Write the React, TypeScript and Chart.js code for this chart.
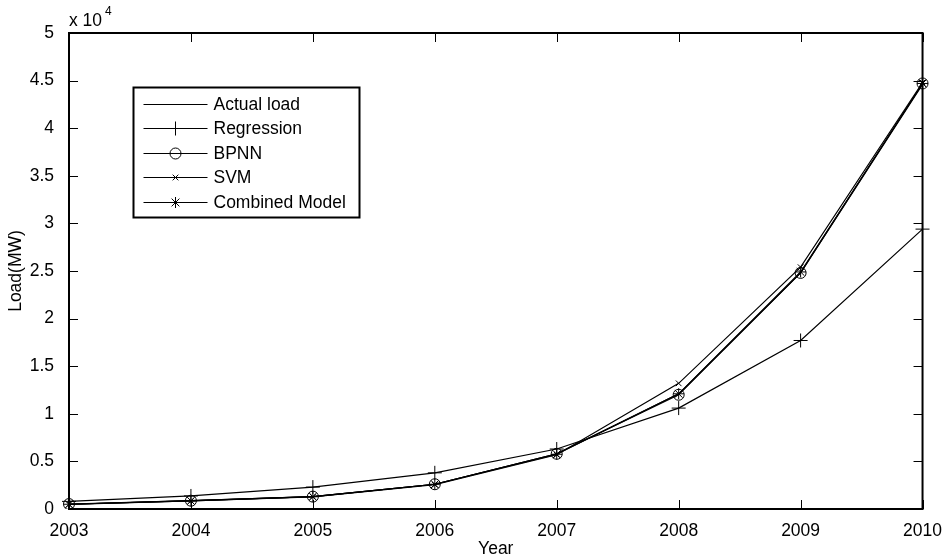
import React, { useEffect, useRef } from "react";
import { Chart, registerables } from "chart.js";

Chart.register(...registerables);

const years = ["2003", "2004", "2005", "2006", "2007", "2008", "2009", "2010"];
const actualLoad = [500, 870, 1300, 2600, 5800, 12100, 24800, 44600];
const regression = [800, 1370, 2300, 3800, 6300, 10600, 17700, 29400];
const bpnn = [520, 870, 1300, 2600, 5800, 12000, 24800, 44700];
const svm = [480, 850, 1280, 2550, 5700, 13200, 25400, 44800];
const combined = [500, 860, 1300, 2600, 5750, 12100, 24900, 44700];
const yTicks = [0, 5000, 10000, 15000, 20000, 25000, 30000, 35000, 40000, 45000, 50000];

const FONT = "Liberation Sans, Arial, sans-serif";
const FS = 17.5;

function drawMarker(ctx: CanvasRenderingContext2D, style: string, r: number, x: number, y: number) {
  ctx.beginPath();
  if (style === "circle") {
    ctx.arc(x, y, r, 0, Math.PI * 2);
  } else if (style === "cross") {
    ctx.moveTo(x - r, y); ctx.lineTo(x + r, y);
    ctx.moveTo(x, y - r); ctx.lineTo(x, y + r);
  } else if (style === "crossRot") {
    const d = r * Math.SQRT1_2;
    ctx.moveTo(x - d, y - d); ctx.lineTo(x + d, y + d);
    ctx.moveTo(x - d, y + d); ctx.lineTo(x + d, y - d);
  } else if (style === "star") {
    const d = r * Math.SQRT1_2;
    ctx.moveTo(x - r, y); ctx.lineTo(x + r, y);
    ctx.moveTo(x, y - r); ctx.lineTo(x, y + r);
    ctx.moveTo(x - d, y - d); ctx.lineTo(x + d, y + d);
    ctx.moveTo(x - d, y + d); ctx.lineTo(x + d, y - d);
  }
  ctx.stroke();
}

const framePlugin = {
  id: "frame",
  afterDatasetsDraw(chart: any) {
    const { ctx, chartArea: a, scales } = chart;
    const x = scales.x, y = scales.y;
    ctx.save();
    ctx.strokeStyle = "#000";
    ctx.lineWidth = 1;
    const tl = 9;
    ctx.beginPath();
    yTicks.forEach((v) => {
      const py = Math.round(y.getPixelForValue(v)) + 0.5;
      ctx.moveTo(a.left, py);
      ctx.lineTo(a.left + tl, py);
      ctx.moveTo(a.right, py);
      ctx.lineTo(a.right - tl, py);
    });
    years.forEach((_, i) => {
      const px = Math.round(x.getPixelForValue(i)) + 0.5;
      ctx.moveTo(px, a.bottom);
      ctx.lineTo(px, a.bottom - tl);
      ctx.moveTo(px, a.top);
      ctx.lineTo(px, a.top + tl);
    });
    ctx.stroke();
    ctx.lineWidth = 2;
    ctx.strokeRect(a.left, a.top, a.right - a.left, a.bottom - a.top);
    // exponent label
    ctx.fillStyle = "#000";
    ctx.font = `${FS}px ${FONT}`;
    ctx.textBaseline = "alphabetic";
    ctx.textAlign = "left";
    ctx.fillText("x 10", a.left, a.top - 7);
    const w = ctx.measureText("x 10").width;
    ctx.font = `12px ${FONT}`;
    ctx.fillText("4", a.left + w + 3, a.top - 18);
    // legend
    const lx = 133.5, ly = 87.5, lw = 226, lh = 130;
    ctx.fillStyle = "#fff";
    ctx.fillRect(lx, ly, lw, lh);
    ctx.lineWidth = 2;
    ctx.strokeRect(lx, ly, lw, lh);
    chart.data.datasets.forEach((ds: any, i: number) => {
      const ry = Math.round(ly + 16 + i * 24.5) + 0.5;
      ctx.strokeStyle = "#000";
      ctx.lineWidth = 1;
      ctx.beginPath();
      ctx.moveTo(lx + 10, ry);
      ctx.lineTo(lx + 74, ry);
      ctx.stroke();
      if (ds.pointRadius > 0) {
        drawMarker(ctx, ds.pointStyle, ds.pointRadius, lx + 42, ry);
      }
      ctx.fillStyle = "#000";
      ctx.font = `${FS}px ${FONT}`;
      ctx.textBaseline = "middle";
      ctx.fillText(ds.label, lx + 80, ry + 1);
    });
    ctx.restore();
  },
};

export default function App() {
  const ref = useRef<HTMLCanvasElement>(null);
  useEffect(() => {
    document.body.style.margin = "0";
    const mk = (label: string, data: number[], pointStyle: any, r: number) => ({
      label,
      data,
      borderColor: "#000",
      backgroundColor: "rgba(0,0,0,0)",
      borderWidth: 1.2,
      pointStyle,
      pointRadius: r,
      pointBorderColor: "#000",
      pointBackgroundColor: "rgba(0,0,0,0)",
      pointBorderWidth: 1,
      tension: 0,
      fill: false,
    });
    const chart = new Chart(ref.current!, {
      type: "line",
      data: {
        labels: years,
        datasets: [
          mk("Actual load", actualLoad, false, 0),
          mk("Regression", regression, "cross", 7),
          mk("BPNN", bpnn, "circle", 5.5),
          mk("SVM", svm, "crossRot", 4),
          mk("Combined Model", combined, "star", 5.5),
        ],
      },
      options: {
        animation: false,
        responsive: false,
        layout: { padding: { top: 33, right: 22, left: 0, bottom: 0 } },
        plugins: { legend: { display: false }, tooltip: { enabled: false } },
        scales: {
          x: {
            type: "category",
            offset: false,
            grid: { display: false },
            border: { display: false },
            ticks: { color: "#000", font: { family: FONT, size: FS }, padding: 4, maxRotation: 0, autoSkip: false },
            title: { display: true, text: "Year", color: "#000", font: { family: FONT, size: FS }, padding: { top: 0, bottom: 0 } },
            afterFit: (s: any) => { s.height = 51; },
          },
          y: {
            min: 0,
            max: 50000,
            afterBuildTicks: (s: any) => { s.ticks = yTicks.map((v) => ({ value: v })); },
            grid: { display: false },
            border: { display: false },
            ticks: {
              color: "#000",
              font: { family: FONT, size: FS },
              padding: 7,
              callback: (v: any) => String(Number(v) / 10000),
            },
            title: { display: true, text: "Load(MW)", color: "#000", font: { family: FONT, size: FS }, padding: { top: 6, bottom: 0 } },
            afterFit: (s: any) => { s.width = 69; },
          },
        },
      },
      plugins: [framePlugin],
    });
    return () => chart.destroy();
  }, []);
  return <canvas ref={ref} width={946} height={560} style={{ display: "block", width: 946, height: 560 }} />;
}
